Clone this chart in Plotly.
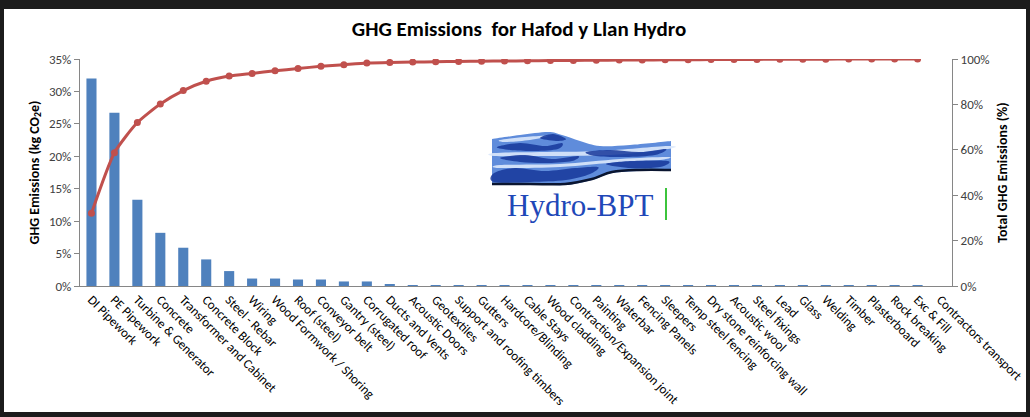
import plotly.graph_objects as go

categories = [
    "DI Pipework", "PE Pipework", "Turbine & Generator", "Concrete",
    "Transformer and Cabinet", "Concrete Block", "Steel - Rebar", "Wiring",
    "Wood Formwork / Shoring", "Roof (steel)", "Conveyor belt", "Gantry (steel)",
    "Corrugated roof", "Ducts and Vents", "Acoustic Doors", "Geotextiles",
    "Support and roofing timbers", "Gutters", "Hardcore/Blinding", "Cable Stays",
    "Wood cladding", "Contraction/Expansion joint", "Painting", "Waterbar",
    "Fencing Panels", "Sleepers", "Temp steel fencing", "Dry stone reinforcing wall",
    "Acoustic wool", "Steel fixings", "Lead", "Glass", "Welding", "Timber",
    "Plasterboard", "Rock breaking", "Exc & Fill", "Contractors transport",
]

# share of GHG emissions (fraction)
emissions = [
    0.320, 0.267, 0.133, 0.082, 0.059, 0.041, 0.023, 0.0115, 0.0115, 0.010,
    0.010, 0.007, 0.007, 0.003, 0.0015, 0.0015, 0.0012, 0.0010, 0.0010, 0.0010,
    0.0008, 0.0008, 0.0007, 0.0007, 0.0006, 0.0006, 0.0005, 0.0005, 0.0005,
    0.0004, 0.0004, 0.0004, 0.0003, 0.0003, 0.0002, 0.00005, 0.00005, None,
]

# cumulative share (fraction)
cumulative = [
    0.320, 0.587, 0.720, 0.802, 0.861, 0.902, 0.925, 0.9365, 0.948, 0.958,
    0.968, 0.975, 0.982, 0.985, 0.9865, 0.988, 0.9892, 0.9902, 0.9912, 0.9922,
    0.9930, 0.9938, 0.9945, 0.9952, 0.9958, 0.9964, 0.9969, 0.9974, 0.9979,
    0.9983, 0.9987, 0.9991, 0.9994, 0.9997, 0.9999, 0.99995, 1.000, None,
]

left_ticks = [0, 0.05, 0.10, 0.15, 0.20, 0.25, 0.30, 0.35]
left_tick_text = ["0%", "5%", "10%", "15%", "20%", "25%", "30%", "35%"]
right_ticks = [0, 0.2, 0.4, 0.6, 0.8, 1.0]
right_tick_text = ["0%", "20%", "40%", "60%", "80%", "100%"]

FONT = "Carlito, Lato, 'Open Sans', sans-serif"
W, H = 1030, 417
L, R, T, B = 80, 952, 59, 286


def px(x):
    return (x - L) / (R - L)


def py(y):
    return (B - y) / (B - T)


def _segments(pts, closed):
    n = len(pts)
    s = ""
    rng = range(n) if closed else range(n - 1)
    for i in rng:
        p0 = pts[(i - 1) % n] if (closed or i > 0) else pts[i]
        p1 = pts[i]
        p2 = pts[(i + 1) % n]
        p3 = pts[(i + 2) % n] if (closed or i + 2 < n) else p2
        c1 = (p1[0] + (p2[0] - p0[0]) / 6, p1[1] + (p2[1] - p0[1]) / 6)
        c2 = (p2[0] - (p3[0] - p1[0]) / 6, p2[1] - (p3[1] - p1[1]) / 6)
        s += (f"C {px(c1[0])},{py(c1[1])} {px(c2[0])},{py(c2[1])} "
              f"{px(p2[0])},{py(p2[1])} ")
    return s


def smooth_path(points, closed=True):
    """Catmull-Rom -> cubic bezier path in paper coordinates (logo decoration)."""
    pts = list(points)
    s = f"M {px(pts[0][0])},{py(pts[0][1])} " + _segments(pts, closed)
    return s + ("Z" if closed else "")


fig = go.Figure()
fig.add_trace(go.Bar(
    x=categories, y=emissions, marker_color="#4F81BD", marker_line_width=0,
    name="GHG Emissions", yaxis="y",
))
fig.add_trace(go.Scatter(
    x=categories, y=cumulative, mode="lines+markers", yaxis="y2",
    line=dict(color="#C0504D", width=3, shape="spline", smoothing=0.6),
    marker=dict(color="#C0504D", size=7), name="Total", connectgaps=False,
))

water_top = [(492, 139), (520, 135), (548, 132), (562, 135), (580, 141), (600, 146),
             (630, 145), (671, 141)]
water_bottom = [(671, 170), (640, 171), (612, 173), (592, 180), (565, 185), (530, 184),
                (492, 185)]
water_path = (f"M {px(water_top[0][0])},{py(water_top[0][1])} "
              + _segments(water_top, False)
              + f"L {px(water_bottom[0][0])},{py(water_bottom[0][1])} "
              + _segments(water_bottom, False) + "Z")

dark_blobs = [
    [(497, 147), (520, 143), (545, 146), (562, 143), (558, 149), (535, 151), (510, 150)],
    [(540, 138), (553, 134), (566, 139), (556, 141)],
    [(500, 158), (525, 155), (552, 159), (578, 156), (572, 161), (548, 163), (520, 162)],
    [(494, 173), (515, 168), (545, 171), (575, 168), (598, 167), (590, 174), (566, 180),
     (530, 182), (494, 182)],
    [(586, 152), (610, 150), (640, 152), (666, 149), (655, 155), (625, 157), (596, 156)],
    [(606, 164), (632, 161), (668, 161), (660, 167), (630, 168)],
]
light_bands = [
    [(494, 153), (540, 152), (600, 151), (668, 146), (668, 149), (610, 155), (540, 156),
     (494, 156)],
    [(500, 165), (560, 164), (620, 159), (668, 157), (660, 160), (620, 162), (560, 167),
     (500, 168)],
    [(500, 140), (525, 137), (548, 136), (530, 140), (505, 142)],
]

shapes = [
    dict(type="rect", xref="paper", yref="paper", layer="below",
         x0=px(4), x1=px(1026), y0=py(412), y1=py(9),
         fillcolor="white", line_width=0),
    dict(type="path", xref="paper", yref="paper", path=water_path,
         fillcolor="#5F8CDB", line=dict(width=0)),
]
for band in light_bands:
    shapes.append(dict(type="path", xref="paper", yref="paper", path=smooth_path(band),
                       fillcolor="#DCE8FB", opacity=0.9, line=dict(width=0)))
for blob in dark_blobs:
    shapes.append(dict(type="path", xref="paper", yref="paper", path=smooth_path(blob),
                       fillcolor="#16379A", opacity=0.85, line=dict(width=0)))
shapes.append(dict(type="path", xref="paper", yref="paper",
                   path=smooth_path([(492, 184), (530, 184), (565, 184), (592, 179),
                                     (612, 172), (640, 170), (671, 170)], closed=False),
                   line=dict(color="#0A1530", width=2.5)))
shapes.append(dict(type="line", xref="paper", yref="paper",
                   x0=px(666), x1=px(666), y0=py(188), y1=py(220),
                   line=dict(color="#3CC43C", width=2)))

annotations = [
    dict(text="Hydro-BPT", xref="paper", yref="paper", x=px(505), y=py(206),
         xanchor="left", yanchor="middle", showarrow=False,
         font=dict(family="Liberation Serif, DejaVu Serif, serif", size=31, color="#1F48B8")),
]

fig.update_layout(
    width=W, height=H, autosize=False,
    margin=dict(l=L, r=W - R, t=T, b=H - B, autoexpand=False),
    paper_bgcolor="#1C1C1C", plot_bgcolor="white",
    showlegend=False, bargap=0.56,
    title=dict(text="GHG Emissions\u00a0 for Hafod y Llan Hydro", x=px(519), xref="paper",
               xanchor="center", y=1 - 29 / H, yanchor="middle", automargin=False,
               font=dict(family=FONT, size=21, color="#000000", weight="bold")),
    font=dict(family=FONT, size=13, color="#404040"),
    xaxis=dict(type="category", range=[-0.5, len(categories) - 0.5], tickangle=45,
               showline=True, linecolor="#868686", automargin=False,
               linewidth=1, ticks="", showgrid=False, zeroline=False,
               tickfont=dict(family=FONT, size=13, color="#000000")),
    yaxis=dict(range=[0, 0.35], tickvals=left_ticks, ticktext=left_tick_text,
               showline=True, linecolor="#868686", linewidth=1, ticks="outside",
               ticklen=5, tickcolor="#868686", showgrid=False, zeroline=False,
               automargin=False,
               tickfont=dict(family=FONT, size=13, color="#404040"),
               title=dict(text="GHG Emissions (kg CO<sub>2</sub>e)", standoff=6,
                          font=dict(family=FONT, size=14, color="#000000", weight="bold"))),
    yaxis2=dict(range=[0, 1.0], tickvals=right_ticks, ticktext=right_tick_text,
                overlaying="y", side="right", showline=True, linecolor="#868686",
                linewidth=1, ticks="outside", ticklen=5, tickcolor="#868686",
                showgrid=False, zeroline=False, automargin=False,
                tickfont=dict(family=FONT, size=13, color="#404040"),
                title=dict(text="Total GHG Emissions (%)", standoff=8,
                           font=dict(family=FONT, size=14, color="#000000", weight="bold"))),
    shapes=shapes, annotations=annotations,
)

fig.write_html(
    "out.html",
    config={"displayModeBar": False},
    post_script="document.body.style.margin='0';document.body.style.background='#1C1C1C';",
)
